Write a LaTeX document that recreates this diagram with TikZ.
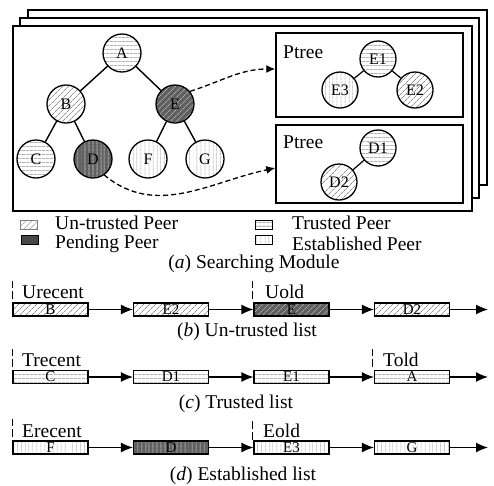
\documentclass[tikz,border=0pt]{standalone}
\usepackage{fontspec}
\setmainfont{Liberation Serif}
\usetikzlibrary{patterns.meta,arrows.meta}
\definecolor{patgray}{HTML}{8E8E8E}
\definecolor{pendgray}{HTML}{606060}
\definecolor{patlight}{HTML}{AAAAAA}
\begin{document}
\begin{tikzpicture}[x=1pt,y=-1pt,
  frame/.style={draw=black, line width=1.5pt, fill=white},
  pbox/.style={draw=black, line width=1.5pt},
  peer/.style={circle, draw=black, line width=1.3pt, minimum size=38pt, inner sep=0pt, font=\fontsize{16}{16}\selectfont},
  speer/.style={peer, minimum size=36pt},
  untr/.style={pattern={Lines[angle=45,distance=4pt,line width=0.7pt]}, pattern color=patgray},
  trus/.style={pattern={Lines[angle=0,distance=4pt,line width=0.7pt]}, pattern color=patgray},
  estb/.style={pattern={Lines[angle=90,distance=4pt,line width=0.7pt]}, pattern color=patgray},
  pendu/.style={preaction={fill=pendgray}, pattern={Lines[angle=45,distance=4pt,line width=0.7pt]}, pattern color=patlight},
  pende/.style={preaction={fill=pendgray}, pattern={Lines[angle=90,distance=4pt,line width=0.8pt]}, pattern color=patlight},
  edge/.style={line width=1.4pt},
  dasharr/.style={line width=1.3pt, dash pattern=on 5pt off 3pt, -{Latex[length=9pt,width=8pt]}},
  lbox/.style={rectangle, draw=black, line width=1.1pt, minimum width=75pt, minimum height=13pt, inner sep=0pt, font=\fontsize{15}{15}\selectfont},
  arr/.style={line width=1.3pt, -{Latex[length=12pt,width=10pt]}},
  tick/.style={line width=1pt, dash pattern=on 8pt off 3pt},
  lbl/.style={inner sep=0pt, font=\fontsize{19.5}{21}\selectfont},
  swatch/.style={rectangle, draw=black, line width=1pt, minimum width=17pt, minimum height=9pt, inner sep=0pt}
]
\useasboundingbox (0,0) rectangle (494,485);
% stacked frames
\draw[frame] (28,10) rectangle (487,185);
\draw[frame] (20,18) rectangle (479,198);
\draw[frame] (13,26) rectangle (472,211);
% main tree
\node[peer, trus] (A) at (122,53) {A};
\node[peer, untr] (B) at (66,104) {B};
\node[peer, pendu] (E) at (175,104) {E};
\node[peer, trus] (C) at (36,159) {C};
\node[peer, pende] (D) at (93,159) {D};
\node[peer, estb] (F) at (148,159) {F};
\node[peer, estb] (G) at (205,159) {G};
\draw[edge] (A) -- (B);
\draw[edge] (A) -- (E);
\draw[edge] (B) -- (C);
\draw[edge] (B) -- (D);
\draw[edge] (E) -- (F);
\draw[edge] (E) -- (G);
% Ptree boxes
\node[pbox, minimum width=187pt, minimum height=84pt, inner sep=0pt] (p1) at (369.5,75) {};
\node[pbox, minimum width=187pt, minimum height=78pt, inner sep=0pt] (p2) at (369.5,164) {};
\node[lbl, anchor=west] (pt1) at (283,52) {Ptree};
\node[lbl, anchor=west] (pt2) at (283,142) {Ptree};
\node[speer, trus] (E1) at (378,59) {E1};
\node[speer, estb] (E3) at (340,90) {E3};
\node[speer, untr] (E2) at (415,90) {E2};
\node[speer, trus] (D1) at (378,148) {D1};
\node[speer, untr] (D2) at (339,182) {D2};
\draw[edge, line width=1.2pt] (E1) -- (E3);
\draw[edge, line width=1.2pt] (E1) -- (E2);
\draw[edge, line width=1.2pt] (D1) -- (D2);
% dashed arrows
\draw[dasharr] (E.40) to[out=18,in=180] ([yshift=6pt]p1.west);
\draw[dasharr] (D.-55) to[out=-40,in=192] ([yshift=-4pt]p2.west);
% legend
\node[swatch, untr, draw=gray] (su) at (29,225) {};
\node[lbl, anchor=west] (tu) at (55,223) {Un-trusted Peer};
\node[swatch, fill=pendgray!75!black] (sp) at (29.5,240) {};
\node[lbl, anchor=west] (tp) at (55,244) {Pending Peer};
\node[swatch, trus] (st) at (264,225) {};
\node[lbl, anchor=west] (tt) at (292,223) {Trusted Peer};
\node[swatch, estb] (se) at (264,240) {};
\node[lbl, anchor=west] (te) at (292,244) {Established Peer};
\node[lbl] (capa) at (254,264) {(\textit{a}) Searching Module};
% list b
\node[lbox, untr] (b1) at (50.5,309.5) {B};
\node[lbox, untr] (b2) at (171,309.5) {E2};
\node[lbox, pendu] (b3) at (291.5,309.5) {E};
\node[lbox, untr] (b4) at (412,309.5) {D2};
\coordinate (bend) at (488,309.5);
\draw[arr] (b1) -- (b2);
\draw[arr] (b2) -- (b3);
\draw[arr] (b3) -- (b4);
\draw[arr] (b4) -- (bend);
\draw[tick] ([yshift=3pt]b1.north west) -- ++(0,-18);
\draw[tick] ([yshift=3pt,xshift=-1pt]b3.north west) -- ++(0,-18);
\node[lbl, anchor=west] (ur) at (22,292) {Urecent};
\node[lbl, anchor=west] (uo) at (265,292) {Uold};
\node[lbl] (capb) at (247,332) {(\textit{b}) Un-trusted list};
% list c
\node[lbox, trus] (c1) at (50.5,377) {C};
\node[lbox, trus] (c2) at (171,377) {D1};
\node[lbox, trus] (c3) at (291.5,377) {E1};
\node[lbox, trus] (c4) at (412,377) {A};
\coordinate (cend) at (488,377);
\draw[arr] (c1) -- (c2);
\draw[arr] (c2) -- (c3);
\draw[arr] (c3) -- (c4);
\draw[arr] (c4) -- (cend);
\draw[tick] ([yshift=3pt]c1.north west) -- ++(0,-18);
\draw[tick] ([yshift=3pt,xshift=-1pt]c4.north west) -- ++(0,-18);
\node[lbl, anchor=west] (tr) at (22,360) {Trecent};
\node[lbl, anchor=west] (to) at (383,360) {Told};
\node[lbl] (capc) at (236,404) {(\textit{c}) Trusted list};
% list d
\node[lbox, estb] (d1) at (50.5,447.5) {F};
\node[lbox, pende] (d2) at (171,447.5) {D};
\node[lbox, estb] (d3) at (291.5,447.5) {E3};
\node[lbox, estb] (d4) at (412,447.5) {G};
\coordinate (dend) at (488,447.5);
\draw[arr] (d1) -- (d2);
\draw[arr] (d2) -- (d3);
\draw[arr] (d3) -- (d4);
\draw[arr] (d4) -- (dend);
\draw[tick] ([yshift=3pt]d1.north west) -- ++(0,-18);
\draw[tick] ([xshift=-1pt]d3.north west) -- ++(0,-21);
\node[lbl, anchor=west] (er) at (22,431) {Erecent};
\node[lbl, anchor=west] (eo) at (263,431) {Eold};
\node[lbl] (capd) at (243,476) {(\textit{d}) Established list};
\end{tikzpicture}
\end{document}
